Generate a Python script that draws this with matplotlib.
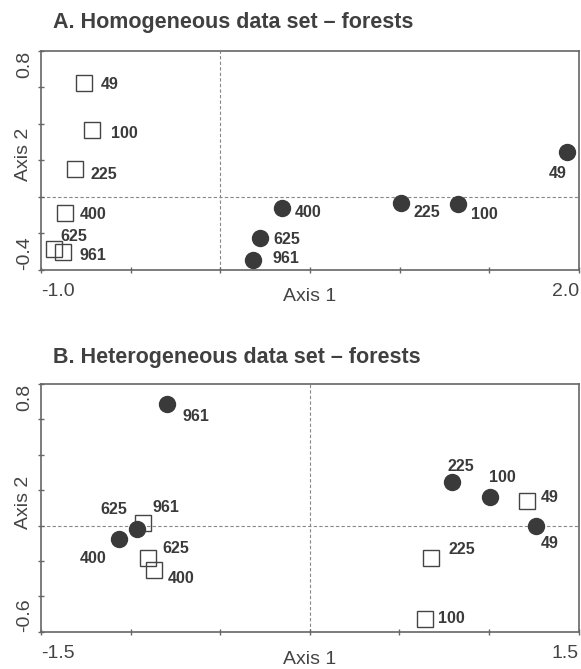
import matplotlib
matplotlib.use('Agg')
import matplotlib.pyplot as plt

plt.rcParams['font.family'] = ['Liberation Sans', 'DejaVu Sans']

# A. homogeneous data set - forests
a_sq_x = [-0.758, -0.714, -0.809, -0.866, -0.926, -0.879]
a_sq_y = [0.625, 0.366, 0.152, -0.090, -0.287, -0.303]
a_sq_lab = ['49', '100', '225', '400', '625', '961']
a_ci_x = [0.342, 0.223, 0.184, 1.006, 1.324, 1.932]
a_ci_y = [-0.063, -0.224, -0.346, -0.035, -0.039, 0.244]
a_ci_lab = ['400', '625', '961', '225', '100', '49']

# B. heterogeneous data set - forests
b_sq_x = [-0.929, -0.901, -0.869, 1.214, 0.677, 0.645]
b_sq_y = [0.016, -0.185, -0.250, 0.141, -0.181, -0.529]
b_sq_lab = ['961', '625', '400', '49', '225', '100']
b_ci_x = [-0.799, -0.966, -1.065, 0.795, 1.007, 1.262]
b_ci_y = [0.685, -0.021, -0.076, 0.248, 0.163, -0.002]
b_ci_lab = ['961', '625', '400', '225', '100', '49']

a_xticks = [-1.0, -0.5, 0.0, 0.5, 1.0, 1.5, 2.0]
a_yticks = [-0.4, -0.2, 0.0, 0.2, 0.4, 0.6, 0.8]
b_xticks = [-1.5, -1.0, -0.5, 0.0, 0.5, 1.0, 1.5]
b_yticks = [-0.6, -0.4, -0.2, 0.0, 0.2, 0.4, 0.6, 0.8]

# label offsets in pixels (dx, dy), ha
a_sq_off = [(16, 0, 'left'), (19, -2, 'left'), (15, -4, 'left'), (15, 0, 'left'),
            (6, 14, 'left'), (17, -2, 'left')]
a_ci_off = [(13, -3, 'left'), (13, 0, 'left'), (19, 3, 'left'), (13, -8, 'left'),
            (13, -9, 'left'), (0, -20, 'right')]
b_sq_off = [(9, 17, 'left'), (14, 11, 'left'), (14, -7, 'left'), (13, 5, 'left'),
            (17, 10, 'left'), (13, 2, 'left')]
b_ci_off = [(16, -11, 'left'), (-9, 21, 'right'), (-12, -18, 'right'), (-5, 17, 'left'),
            (-1, 21, 'left'), (5, -16, 'left')]

spine_c = '#666666'
text_c = '#3a3a3a'
dot_c = '#3a3a3a'

fig = plt.figure(figsize=(5.81, 6.69), dpi=100)
ax1 = fig.add_axes([41/581, 1 - 270/669, 538/581, 219.3/669])
ax2 = fig.add_axes([41/581, 1 - 631.7/669, 537.7/581, 247.7/669])


def panel(ax, sx, sy, slab, soff, cx, cy, clab, coff, xt, yt, ylc, xlc):
    ax.axhline(0, color='#888888', lw=0.8, ls=(0, (3, 2)), zorder=1)
    ax.axvline(0, color='#888888', lw=0.8, ls=(0, (3, 2)), zorder=1)
    ax.plot(sx, sy, 's', ms=11.5, mfc='none', mec='#444444', mew=1.0, zorder=2)
    ax.plot(cx, cy, 'o', ms=11.5, mfc=dot_c, mec=dot_c, zorder=3)
    for x, y, t, (dx, dy, ha) in zip(sx, sy, slab, soff):
        ax.annotate(t, (x, y), xytext=(dx, dy), textcoords='offset pixels',
                    ha=ha, va='center_baseline', fontsize=11.5, fontweight='bold', color=text_c)
    for x, y, t, (dx, dy, ha) in zip(cx, cy, clab, coff):
        ax.annotate(t, (x, y), xytext=(dx, dy), textcoords='offset pixels',
                    ha=ha, va='center_baseline', fontsize=11.5, fontweight='bold', color=text_c)
    ax.set_xlim(xt[0], xt[-1])
    ax.set_ylim(yt[0], yt[-1])
    ax.set_xticks(xt)
    ax.set_yticks(yt)
    ax.set_xticklabels(['%.1f' % xt[0]] + [''] * (len(xt) - 2) + ['%.1f' % xt[-1]])
    ax.set_yticklabels(['%.1f' % yt[0]] + [''] * (len(yt) - 2) + ['%.1f' % yt[-1]],
                       rotation=90)
    xl = ax.get_xticklabels()
    xl[0].set_ha('left')
    xl[-1].set_ha('right')
    yl = ax.get_yticklabels()
    yl[0].set_va('bottom')
    yl[-1].set_va('top')
    ax.tick_params(direction='inout', length=5, width=1, color=spine_c,
                   labelsize=14, labelcolor='#444444')
    ax.tick_params(axis='x', pad=7)
    ax.tick_params(axis='y', pad=3)
    for s in ax.spines.values():
        s.set_color(spine_c)
        s.set_linewidth(1.2)
    ax.set_xlabel('Axis 1', fontsize=14, color='#444444', va='top')
    ax.set_ylabel('Axis 2', fontsize=14, color='#444444')
    ax.xaxis.set_label_coords(0.5, xlc)
    ax.yaxis.set_label_coords(-0.017, ylc)


panel(ax1, a_sq_x, a_sq_y, a_sq_lab, a_sq_off, a_ci_x, a_ci_y, a_ci_lab, a_ci_off,
      a_xticks, a_yticks, 0.529, -0.082)
panel(ax2, b_sq_x, b_sq_y, b_sq_lab, b_sq_off, b_ci_x, b_ci_y, b_ci_lab, b_ci_off,
      b_xticks, b_yticks, 0.524, -0.078)

fig.text(53/581, 1 - 28/669, 'A. Homogeneous data set \u2013 forests', fontsize=15.5,
         fontweight='bold', color='#404040', va='baseline')
fig.text(53/581, 1 - 363/669, 'B. Heterogeneous data set \u2013 forests', fontsize=15.5,
         fontweight='bold', color='#404040', va='baseline')

fig.savefig('out.png', dpi=100)
